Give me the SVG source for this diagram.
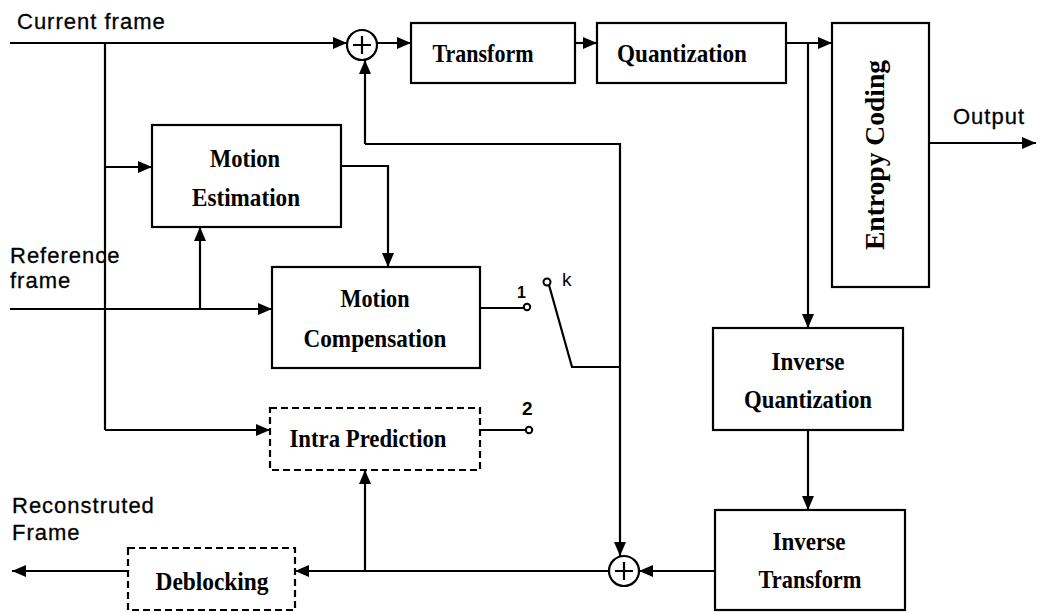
<svg xmlns="http://www.w3.org/2000/svg" width="1038" height="612" viewBox="0 0 1038 612">
  <style>
    .box { fill: #fff; stroke: #000; stroke-width: 2.2; }
    .dash { fill: #fff; stroke: #000; stroke-width: 2.2; stroke-dasharray: 7 4; }
    .lbl { font-family: "Liberation Serif", "Times New Roman", serif; font-weight: bold; font-size: 26px; text-anchor: middle; fill: #000; }
    .sans { font-family: "Liberation Sans", Arial, sans-serif; font-size: 22px; letter-spacing: 1px; fill: #000; stroke: #000; stroke-width: 0.3; }
    .wire { fill: none; stroke: #000; stroke-width: 2.2; }
    .arr { fill: none; stroke: #000; stroke-width: 2.2; marker-end: url(#head); }
    .sum { fill: #fff; stroke: #000; stroke-width: 2.2; }
    .term { fill: #fff; stroke: #000; stroke-width: 2; }
    .small { font-family: "Liberation Sans", Arial, sans-serif; fill: #000; }
  </style>
  <defs>
    <marker id="head" markerUnits="userSpaceOnUse" markerWidth="14" markerHeight="12" viewBox="0 0 14 12" refX="14" refY="6" orient="auto">
      <path d="M0,0 L14,6 L0,12 Z" fill="#000"/>
    </marker>
  </defs>

  <rect width="1038" height="612" fill="#fff"/>

  <!-- signal paths -->
  <g id="connectors">
    <!-- current frame into the subtractor -->
    <path class="arr" d="M10,43 H347"/>
    <!-- current frame branch to motion estimation and intra prediction -->
    <path class="wire" d="M105,43 V430"/>
    <path class="arr" d="M105,167 H152"/>
    <path class="arr" d="M105,430 H270"/>
    <!-- reference frame -->
    <path class="arr" d="M10,309 H272"/>
    <path class="arr" d="M200,309 V227"/>
    <!-- motion estimation to compensation -->
    <path class="arr" d="M341,166 H388 V267"/>
    <!-- forward chain -->
    <path class="arr" d="M377,43 H411"/>
    <path class="arr" d="M575,43 H597"/>
    <path class="arr" d="M786,43 H832"/>
    <path class="arr" d="M808,43 V328"/>
    <path class="arr" d="M929,143 H1036"/>
    <path class="arr" d="M808,430 V510"/>
    <!-- reconstruction loop -->
    <path class="arr" d="M715,571 H639"/>
    <path class="arr" d="M608,571 H295"/>
    <path class="arr" d="M365,571 V470"/>
    <path class="arr" d="M128,571 H12"/>
    <!-- prediction selector -->
    <path class="wire" d="M480,308 H524"/>
    <path class="wire" d="M480,430 H526"/>
    <path class="wire" d="M549,285 L572,367 H620"/>
    <path class="arr" d="M620,367 V556"/>
    <path class="wire" d="M620,367 V144 H365"/>
    <path class="arr" d="M365,144 V60"/>
    <circle class="term" cx="527" cy="307" r="3.2"/>
    <circle class="term" cx="529" cy="430" r="3.2"/>
    <circle class="term" cx="547" cy="282" r="3.5"/>
  </g>

  <g id="sum-top">
    <circle class="sum" cx="362" cy="45" r="15"/>
    <path class="wire" d="M362,36 V54 M353,45 H371"/>
  </g>

  <g id="sum-bottom">
    <circle class="sum" cx="624" cy="571" r="15"/>
    <path class="wire" d="M624,562 V580 M615,571 H633"/>
  </g>

  <g id="transform">
    <rect class="box" x="411" y="23" width="164" height="60"/>
    <text class="lbl" x="483" y="62" textLength="101" lengthAdjust="spacingAndGlyphs">Transform</text>
  </g>

  <g id="quantization">
    <rect class="box" x="597" y="23" width="189" height="60"/>
    <text class="lbl" x="682" y="62" textLength="130" lengthAdjust="spacingAndGlyphs">Quantization</text>
  </g>

  <g id="entropy-coding">
    <rect class="box" x="832" y="23" width="97" height="264"/>
    <text class="lbl" transform="translate(884,155) rotate(-90)" style="font-size:28px" textLength="190" lengthAdjust="spacingAndGlyphs">Entropy Coding</text>
  </g>

  <g id="motion-estimation">
    <rect class="box" x="152" y="125" width="189" height="102"/>
    <text class="lbl" x="245" y="167" textLength="70" lengthAdjust="spacingAndGlyphs">Motion</text>
    <text class="lbl" x="246" y="206" textLength="108" lengthAdjust="spacingAndGlyphs">Estimation</text>
  </g>

  <g id="motion-compensation">
    <rect class="box" x="272" y="267" width="208" height="101"/>
    <text class="lbl" x="375" y="307" textLength="69" lengthAdjust="spacingAndGlyphs">Motion</text>
    <text class="lbl" x="375" y="347" textLength="143" lengthAdjust="spacingAndGlyphs">Compensation</text>
  </g>

  <g id="intra-prediction">
    <rect class="dash" x="270" y="408" width="210" height="62"/>
    <text class="lbl" x="368" y="447" textLength="157" lengthAdjust="spacingAndGlyphs">Intra Prediction</text>
  </g>

  <g id="inverse-quantization">
    <rect class="box" x="713" y="328" width="190" height="102"/>
    <text class="lbl" x="808" y="370" textLength="73" lengthAdjust="spacingAndGlyphs">Inverse</text>
    <text class="lbl" x="808" y="408" textLength="128" lengthAdjust="spacingAndGlyphs">Quantization</text>
  </g>

  <g id="inverse-transform">
    <rect class="box" x="715" y="510" width="190" height="100"/>
    <text class="lbl" x="809" y="550" textLength="73" lengthAdjust="spacingAndGlyphs">Inverse</text>
    <text class="lbl" x="810" y="588" textLength="103" lengthAdjust="spacingAndGlyphs">Transform</text>
  </g>

  <g id="deblocking">
    <rect class="dash" x="128" y="548" width="167" height="62"/>
    <text class="lbl" x="212" y="590" textLength="113" lengthAdjust="spacingAndGlyphs">Deblocking</text>
  </g>

  <g id="labels">
    <text class="sans" x="17" y="29">Current frame</text>
    <text class="sans" x="953" y="124">Output</text>
    <text class="sans" x="10" y="263">Reference</text>
    <text class="sans" x="10" y="288">frame</text>
    <text class="sans" x="12" y="513">Reconstruted</text>
    <text class="sans" x="12" y="540">Frame</text>
    <text class="small" x="517" y="298" style="font-size:16px;font-weight:bold">1</text>
    <text class="small" x="562" y="286" style="font-size:19px">k</text>
    <text class="small" x="522" y="415" style="font-size:19px;font-weight:bold">2</text>
  </g>
</svg>
